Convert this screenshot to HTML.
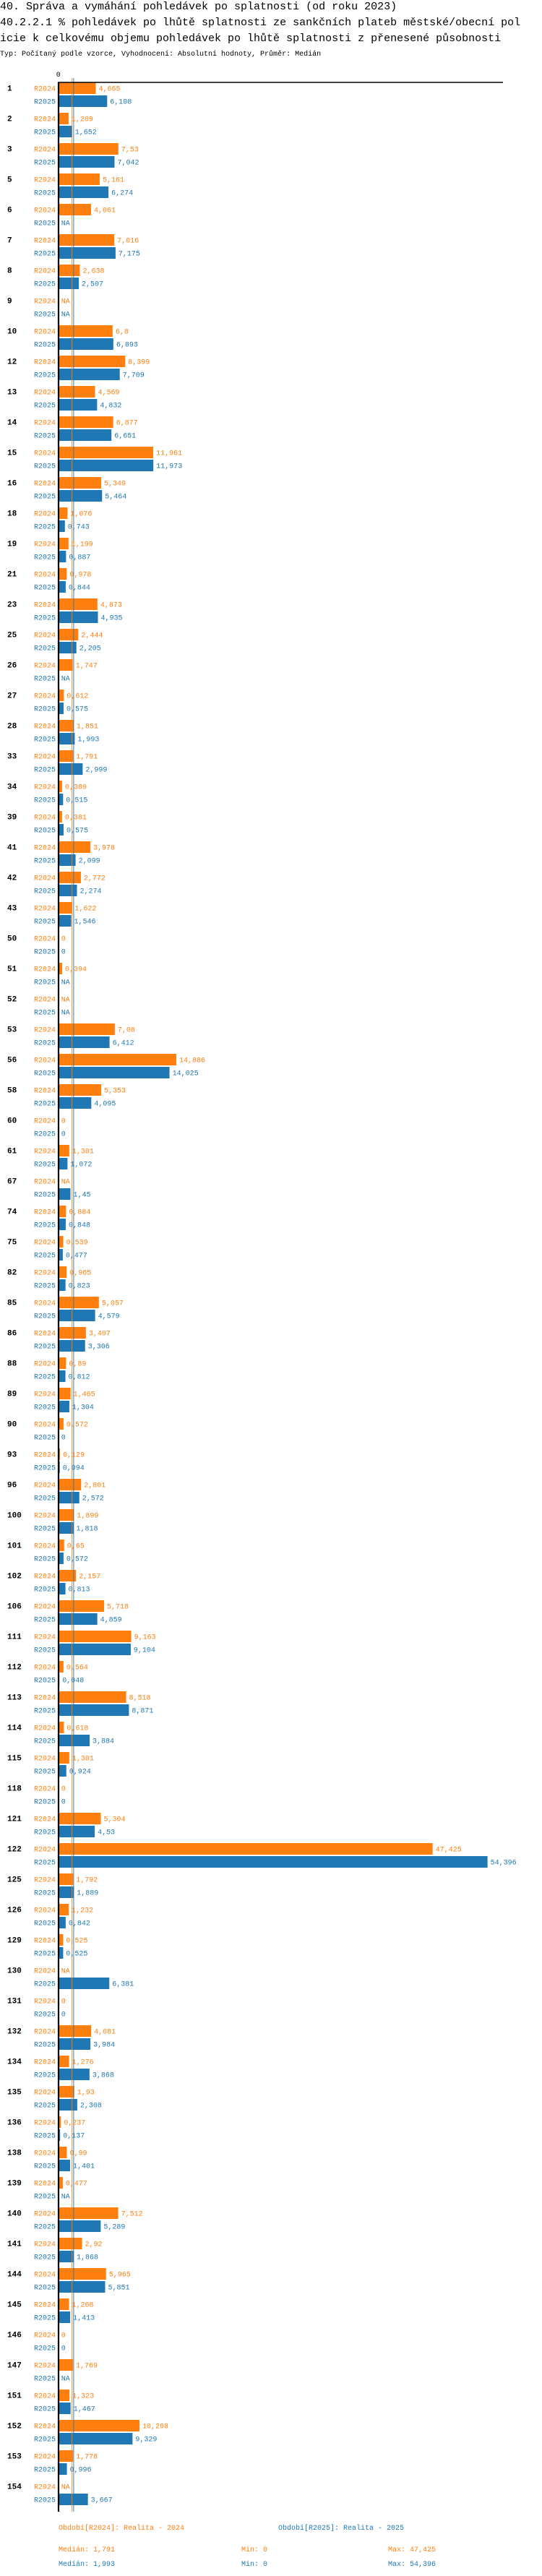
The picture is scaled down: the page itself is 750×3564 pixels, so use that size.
<!DOCTYPE html>
<html><head><meta charset="utf-8">
<style>
html,body{margin:0;padding:0;background:#fff;}
svg{display:block;font-family:"Liberation Mono",monospace;}
</style></head>
<body>
<svg id="chart" width="750" height="3564" viewBox="0 0 750 3564" xmlns="http://www.w3.org/2000/svg">
<text x="0" y="13" font-size="15">40. Správa a vymáhání pohledávek po splatnosti (od roku 2023)</text>
<text x="0" y="35" font-size="15">40.2.2.1 % pohledávek po lhůtě splatnosti ze sankčních plateb městské/obecní  pol</text>
<text x="0" y="57" font-size="15">icie k celkovému objemu pohledávek po lhůtě splatnosti z přenesené působnosti</text>
<text x="0" y="77" font-size="10">Typ: Počítaný podle vzorce, Vyhodnocení: Absolutní hodnoty, Průměr: Medián</text>
<g id="bars"></g>
<g id="lines"></g>
<g id="labels"></g>
<g id="footer">
<text x="81" y="3500" font-size="10" fill="#ff7f0e">Období[R2024]: Realita - 2024</text>
<text x="385" y="3500" font-size="10" fill="#1f77b4">Období[R2025]: Realita - 2025</text>
<text x="81" y="3530" font-size="10" fill="#ff7f0e">Medián: 1,791</text>
<text x="334" y="3530" font-size="10" fill="#ff7f0e">Min: 0</text>
<text x="537" y="3530" font-size="10" fill="#ff7f0e">Max: 47,425</text>
<text x="81" y="3550" font-size="10" fill="#1f77b4">Medián: 1,993</text>
<text x="334" y="3550" font-size="10" fill="#1f77b4">Min: 0</text>
<text x="537" y="3550" font-size="10" fill="#1f77b4">Max: 54,396</text>
</g>
</svg>
<script>
const categories = ["1","2","3","5","6","7","8","9","10","12","13","14","15","16","18","19","21","23","25","26","27","28","33","34","39","41","42","43","50","51","52","53","56","58","60","61","67","74","75","82","85","86","88","89","90","93","96","100","101","102","106","111","112","113","114","115","118","121","122","125","126","129","130","131","132","134","135","136","138","139","140","141","144","145","146","147","151","152","153","154"];
const values2024 = [4.665,1.209,7.53,5.161,4.061,7.016,2.638,null,6.8,8.399,4.569,6.877,11.961,5.349,1.076,1.199,0.978,4.873,2.444,1.747,0.612,1.851,1.791,0.389,0.381,3.978,2.772,1.622,0,0.394,null,7.08,14.886,5.353,0,1.301,null,0.884,0.539,0.965,5.057,3.407,0.89,1.465,0.572,0.129,2.801,1.899,0.65,2.157,5.718,9.163,0.564,8.518,0.618,1.301,0,5.304,47.425,1.792,1.232,0.525,null,0,4.081,1.276,1.93,0.237,0.99,0.477,7.512,2.92,5.965,1.268,0,1.769,1.323,10.208,1.778,null];
const values2025 = [6.108,1.652,7.042,6.274,null,7.175,2.507,null,6.893,7.709,4.832,6.651,11.973,5.464,0.743,0.887,0.844,4.935,2.205,null,0.575,1.993,2.999,0.515,0.575,2.099,2.274,1.546,0,null,null,6.412,14.025,4.095,0,1.072,1.45,0.848,0.477,0.823,4.579,3.306,0.812,1.304,0,0.094,2.572,1.818,0.572,0.813,4.859,9.104,0.048,8.871,3.884,0.924,0,4.53,54.396,1.889,0.842,0.525,6.381,0,3.984,3.868,2.308,0.137,1.401,null,5.289,1.868,5.851,1.413,0,null,1.467,9.329,0.996,3.667];
const medians = [1.791, 1.993];
const seriesNames = ["R2024","R2025"];
const tickLabels = ["0"];

const NS = "http://www.w3.org/2000/svg";
const X0 = 81.7, SCALE = 10.9, Y0 = 114, PITCH = 42, BAR_H = 16, AXIS_END = 3475;
const colors = ["#ff7f0e","#1f77b4"];
function xScale(v){ return X0 + v*SCALE; }
function yGroup(i){ return Y0 + i*PITCH; }
function fmt(v){ return String(v).replace('.', ','); }
const gBars = document.getElementById('bars');
const gLines = document.getElementById('lines');
const gLabels = document.getElementById('labels');
function mk(parent, tag, attrs){ const e=document.createElementNS(NS,tag); for(const k in attrs) e.setAttribute(k,attrs[k]); parent.appendChild(e); return e; }

categories.forEach(function(cat,i){
  const top = yGroup(i);
  const gl = mk(gLabels,'text',{x:10,y:top+11.5,'font-size':11,'font-weight':'bold'});
  gl.textContent = cat;
  
  
  [values2024, values2025].forEach(function(arr,s){
    const v = arr[i];
    const by = top + s*18;
    const sl = mk(gLabels,'text',{x:77,y:by+11.5,'font-size':10,'text-anchor':'end',fill:colors[s]});
    sl.textContent = seriesNames[s];
    
    
    let lx = X0 + 3;
    if (v !== null && v > 0) {
      const w = xScale(v) - X0;
      const r = mk(gBars,'rect',{x:X0,y:by,width:w,height:BAR_H,fill:colors[s]});
      
      
      lx = xScale(v) + 4;
    }
    const vl = mk(gLabels,'text',{x:lx,y:by+11.5,'font-size':10,fill:colors[s]});
    vl.textContent = v === null ? 'NA' : fmt(v);
    
    
  });
});

medians.forEach(function(m,s){
  const mx = xScale(m) - 1.5;
  const l = mk(gLines,'line',{x1:mx,y1:108,x2:mx,y2:AXIS_END,stroke:colors[s],'stroke-width':0.9});
  
  
});
let e = mk(gLines,'line',{x1:80,y1:Y0,x2:696,y2:Y0,stroke:'#000','stroke-width':1.5});


e = mk(gLines,'line',{x1:81,y1:Y0,x2:81,y2:AXIS_END,stroke:'#000','stroke-width':2.2});


tickLabels.forEach(function(t){
  const te = mk(gLabels,'text',{x:xScale(+t)-1,y:106,'font-size':10,'text-anchor':'middle'});
  te.textContent = t;
  
  
});
</script>
</body></html>
